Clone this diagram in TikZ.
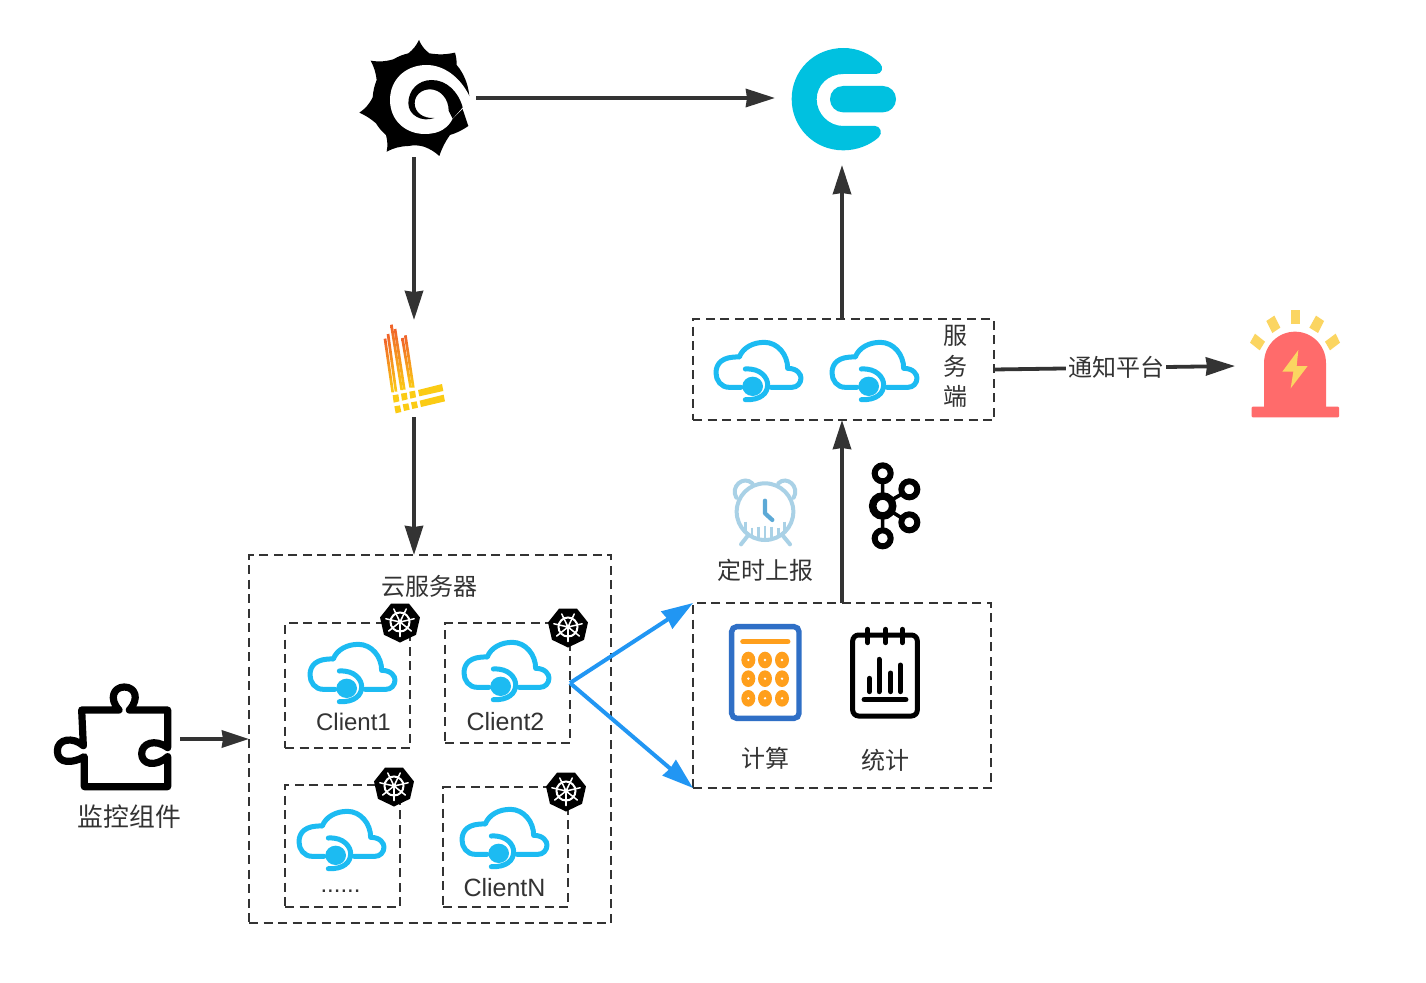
\documentclass[tikz,border=0pt]{standalone}
\usepackage{fontspec}
\setmainfont{Liberation Sans}
\newfontfamily\cjkf{Noto Sans CJK SC}
\usetikzlibrary{arrows.meta,calc}
\definecolor{ink}{HTML}{333333}
\definecolor{flow}{HTML}{2196F3}
\definecolor{cloudc}{HTML}{1CBBF2}
\definecolor{elkc}{HTML}{00C1E0}
\definecolor{bellr}{HTML}{FF6B6B}
\definecolor{belly}{HTML}{FBD561}
\definecolor{clockl}{HTML}{A9D1E6}
\definecolor{clockd}{HTML}{5CA9D6}
\definecolor{calcb}{HTML}{2F6FC6}
\definecolor{calco}{HTML}{FF9F1C}
\definecolor{lokio}{HTML}{F0622A}
\definecolor{lokiy}{HTML}{FBCB14}
\tikzset{
  dbox/.style={draw=ink,line width=2.3pt,dash pattern=on 9pt off 5.5pt,inner sep=0pt,outer sep=0pt},
  slot/.style={inner sep=0pt,outer sep=0pt},
  txt/.style={inner sep=0pt,outer sep=0pt,text=ink,font=\fontsize{24}{24}\selectfont},
  txtb/.style={inner sep=0pt,outer sep=0pt,text=ink,font=\fontsize{25}{25}\selectfont},
  ctxt/.style={inner sep=0pt,outer sep=0pt,text=ink,font=\fontsize{24}{24}\selectfont\cjkf},
  arr/.style={draw=ink,line width=3.8pt,-{Stealth[length=29pt,width=18pt,inset=1pt]}},
  arrs/.style={draw=ink,line width=3.8pt,-{Stealth[length=27pt,width=17pt,inset=1pt]}},
  barr/.style={draw=flow,line width=4pt,-{Stealth[length=31pt,width=20pt,inset=1pt]}},
  zoomed/.style={x=.33333pt,y=-.33333pt},
}
\newcommand{\cloudicon}[1]{\begin{scope}[shift={#1},zoomed]
  \draw[cloudc,line width=5pt,line cap=round,line join=round]
    (165,283) -- (130,283) .. controls (105,283) and (90,262) .. (90,240)
    .. controls (90,210) and (110,190) .. (160,192)
    .. controls (170,165) and (200,148) .. (235,148)
    .. controls (275,148) and (305,185) .. (305,226)
    .. controls (335,226) and (345,245) .. (345,255)
    .. controls (345,272) and (332,283) .. (318,283) -- (255,283);
  \draw[cloudc,line width=5pt,line cap=round]
    (178,228) .. controls (225,225) and (245,255) .. (245,275)
    .. controls (245,300) and (225,322) .. (178,320);
  \fill[cloudc] (200,280) ellipse [x radius=31,y radius=29];
\end{scope}}
\newcommand{\kbadge}[1]{\begin{scope}[shift={#1}]
  \fill[black,line join=round] (90:20.5) -- (38.6:20.5) -- (-12.9:20.5) -- (-64.3:20.5) -- (-115.7:20.5) -- (-167.1:20.5) -- (141.4:20.5) -- cycle;
  \draw[white,line width=2pt] (0,0) circle (9.5);
  \foreach \a in {90,38.6,-12.9,-64.3,-115.7,-167.1,141.4}{
    \draw[white,line width=1.5pt,line cap=round] (\a:2.5) -- (\a:14.5);}
  \fill[white] (0,0) circle (2.6);
\end{scope}}
\begin{document}
\begin{tikzpicture}[x=1pt,y=-1pt]
\path[fill=white,use as bounding box] (0,0) rectangle (1426,982);

% containers
\node[dbox,minimum width=362pt,minimum height=368pt] (cloudbox) at (430,739) {};
\node[dbox,minimum width=125pt,minimum height=125pt] (c1) at (347.5,685.5) {};
\node[dbox,minimum width=125pt,minimum height=120pt] (c2) at (507.5,683) {};
\node[dbox,minimum width=115pt,minimum height=122pt] (c3) at (342.5,846) {};
\node[dbox,minimum width=125pt,minimum height=120pt] (c4) at (505.5,847) {};
\node[dbox,minimum width=298pt,minimum height=185pt] (compute) at (842,695.5) {};
\node[dbox,minimum width=301pt,minimum height=101pt] (service) at (843.5,369.5) {};

% icon slots
\node[slot,minimum width=124pt,minimum height=118pt] (grafana) at (414,98) {};
\node[slot,minimum width=134pt,minimum height=134pt] (elk) at (842,98) {};
\node[slot,minimum width=80pt,minimum height=97pt] (loki) at (414,368.5) {};
\node[slot,minimum width=126pt,minimum height=110pt] (puzzle) at (117,739) {};
\node[slot,minimum width=120pt,minimum height=110pt] (bell) at (1295,366) {};

% connectors
\draw[arr] (grafana.east) -- (elk.west);
\draw[arr] (grafana.south) -- (loki.north);
\draw[arr] (loki.south) -- (loki.south |- cloudbox.north);
\draw[arrs] (puzzle.east) -- (cloudbox.west);
\draw[barr] (c2.east) -- (compute.north west);
\draw[barr] (c2.east) -- (compute.south west);
\draw[arr] (compute.north) -- (compute.north |- service.south);
\draw[arr] (elk.south |- service.north) -- (elk.south);
\draw[arr] (service.east) -- node[pos=.508,fill=white,ctxt,inner xsep=2pt,inner ysep=3pt] (notify) {通知平台} (bell.west);

% grafana
\begin{scope}[shift={(340,20)},zoomed]
  \fill[black] (237,60) to[bend right=14] (268,100) to[bend right=10] (345,98)
    to[bend left=8] (350,135) .. controls (372,160) and (385,195) .. (388,228)
    -- (366,262) -- (385,318) to[bend left=8] (330,345) to[bend right=8] (298,408)
    to[bend right=10] (252,380) to[bend right=12] (205,378) to[bend right=12] (140,395)
    to[bend right=12] (138,345) to[bend left=8] (108,310) to[bend right=8] (58,278)
    to[bend right=14] (98,232) to[bend left=8] (110,180) to[bend right=10] (92,122)
    to[bend right=12] (160,118) to[bend left=8] (205,100) to[bend right=12] cycle;
  \fill[white] (388,228) .. controls (360,170) and (310,135) .. (260,135)
    .. controls (195,135) and (150,180) .. (150,240)
    .. controls (150,300) and (195,342) .. (255,342)
    .. controls (300,342) and (325,322) .. (338,296) -- (372,262) -- (400,245) -- cycle;
  \fill[black] (368,262) .. controls (355,215) and (320,180) .. (275,180)
    .. controls (235,180) and (205,210) .. (205,250)
    .. controls (205,285) and (245,308) .. (283,294)
    .. controls (250,296) and (224,278) .. (224,250)
    .. controls (224,225) and (245,208) .. (270,208)
    .. controls (300,208) and (326,235) .. (326,272)
    -- (338,296) -- cycle;
\end{scope}

% elk logo
\begin{scope}[shift={(770,30)},zoomed]
  \fill[elkc] (330,100) .. controls (300,70) and (262,54) .. (220,54)
    .. controls (132,54) and (65,122) .. (65,207)
    .. controls (65,292) and (132,361) .. (220,361)
    .. controls (262,361) and (300,345) .. (326,322)
    .. controls (340,308) and (330,288) .. (315,288) -- (220,288)
    .. controls (175,288) and (140,250) .. (140,208)
    .. controls (140,165) and (175,132) .. (220,132) -- (318,132)
    .. controls (336,132) and (342,112) .. (330,100) -- cycle;
  \fill[elkc,rounded corners=13pt] (180,168) rectangle (378,247);
\end{scope}

% loki
\begin{scope}[shift={(370,315)},zoomed]
  \foreach \xa/\ya/\xb/\yb in {41/72/68/232,50/58/78/230,60/30/95/225,71/43/103/224,93/70/122/218,102/62/130/218}{
    \shade[top color=lokio,bottom color=lokiy] (\xa,\ya) -- ({\xa+8},{\ya-2}) -- ({\xb+4},\yb) -- ({\xb-4},\yb) -- cycle;}
  \fill[lokiy] (68,241) -- (85,238) -- (88,259) -- (71,263) -- cycle
    (93,236) -- (110,233) -- (113,253) -- (96,257) -- cycle
    (118,230) -- (135,227) -- (138,247) -- (121,251) -- cycle
    (144,225) -- (216,207) -- (220,228) -- (148,244) -- cycle
    (73,274) -- (90,271) -- (94,291) -- (77,295) -- cycle
    (98,268) -- (115,265) -- (119,284) -- (102,288) -- cycle
    (123,262) -- (140,259) -- (144,278) -- (127,282) -- cycle
    (149,257) -- (221,239) -- (225,259) -- (153,276) -- cycle;
\end{scope}

% puzzle
\begin{scope}[shift={(40,675)},zoomed]
  \draw[black,line width=7.2pt,line join=round,line cap=round]
    (383,218) .. controls (345,190) and (305,205) .. (305,236)
    .. controls (305,268) and (345,278) .. (383,245) -- (383,335) -- (133,335) -- (133,245)
    .. controls (100,265) and (52,268) .. (52,228)
    .. controls (52,190) and (100,185) .. (130,212) -- (125,105) -- (237,105)
    .. controls (205,70) and (222,36) .. (253,36)
    .. controls (285,36) and (300,70) .. (268,105) -- (383,105) -- (383,218);
\end{scope}

% client clouds
\cloudicon{(280,595)}
\cloudicon{(434,593)}
\cloudicon{(269,762)}
\cloudicon{(432,760)}
\cloudicon{(686,293)}
\cloudicon{(802,293)}

% kubernetes badges
\kbadge{(400,622)}
\kbadge{(568,627)}
\kbadge{(394,786)}
\kbadge{(566,791)}

% alarm bell
\begin{scope}[shift={(1240,300)},zoomed]
  \fill[bellr] (72,325) -- (72,190) .. controls (72,135) and (115,95) .. (165,95)
    .. controls (215,95) and (258,135) .. (258,190) -- (258,325) -- cycle;
  \fill[bellr,rounded corners=1pt] (35,320) rectangle (297,352);
  \fill[belly] (152,30) rectangle (180,72);
  \fill[belly] (79,63) -- (103,47) -- (121,83) -- (97,99) -- cycle;
  \fill[belly] (45,101) -- (75,125) -- (59,151) -- (30,128) -- cycle;
  \fill[belly] (252,63) -- (228,47) -- (208,83) -- (234,99) -- cycle;
  \fill[belly] (287,101) -- (300,128) -- (270,151) -- (255,125) -- cycle;
  \fill[belly,line join=round] (175,150) -- (127,215) -- (160,215) -- (152,265) -- (203,198) -- (170,198) -- cycle;
\end{scope}

% clock and kafka
\begin{scope}[shift={(715,455)},zoomed]
  \draw[clockl,line width=4pt] (150,170) circle (85);
  \draw[clockl,line width=4pt,line cap=round] (64,128) .. controls (45,95) and (85,60) .. (112,85);
  \draw[clockl,line width=4pt,line cap=round] (236,128) .. controls (255,95) and (215,60) .. (190,85);
  \draw[clockl,line width=4pt,line cap=round] (100,240) -- (78,268) (202,240) -- (225,268);
  \foreach \tx/\ty/\te in {92/200/232,111/218/245,131/215/253,150/212/255,170/215/253,190/218/245,208/200/232}{
    \draw[clockl,line width=2.4pt] (\tx,\ty) -- (\tx,\te);}
  \draw[clockd,line width=4.2pt,line cap=round,line join=round] (150,137) -- (150,175) -- (172,195);
  \draw[black,line width=6pt] (503,55) circle (24);
  \draw[black,line width=6pt] (503,250) circle (24);
  \draw[black,line width=6pt] (583,103) circle (24);
  \draw[black,line width=6pt] (583,202) circle (24);
  \draw[black,line width=7.5pt] (503,153) circle (30);
  \draw[black,line width=3.6pt] (503,79) -- (503,120) (503,186) -- (503,226) (530,135) -- (562,116) (530,170) -- (562,190);
\end{scope}

% calculator and stats
\begin{scope}[shift={(715,615)},zoomed]
  \draw[calcb,line width=5.4pt,rounded corners=5pt] (50,35) rectangle (252,310);
  \draw[calco,line width=5.6pt,line cap=round] (84,80) -- (218,80);
  \foreach \cx in {100,150,201}{\foreach \cy in {135,191,250}{
    \fill[calco] (\cx,\cy) ellipse [x radius=21,y radius=25];
    \fill[white] (\cx,\cy) circle (4);}}
  \draw[black,line width=5pt,rounded corners=6pt] (413,60) rectangle (607,303);
  \draw[black,line width=5pt,line cap=round] (458,43) -- (458,83) (512,43) -- (512,83) (562,43) -- (562,83);
  \draw[black,line width=5pt,line cap=round] (463,190) -- (463,230) (492,133) -- (492,230) (527,174) -- (527,230) (556,150) -- (556,230);
  \draw[black,line width=5.6pt,line cap=round] (448,254) -- (572,254);
\end{scope}

% labels
\node[ctxt,font=\fontsize{25.8}{26}\selectfont\cjkf] (lpuzzle) at (129.5,817) {监控组件};
\node[ctxt] (lcloud) at (429,586) {云服务器};
\node[txt] (l1) at (353.5,722) {Client1};
\node[txtb] (l2) at (505.5,722) {Client2};
\node[txt] (l3) at (340.5,891) {......};
\node[txtb] (l4) at (504.5,888) {ClientN};
\node[ctxt] (ltimer) at (765.5,570) {定时上报};
\node[ctxt] (lcalc) at (765.5,758) {计算};
\node[ctxt] (lstat) at (885.5,760) {统计};
\node[ctxt] (lsa) at (955.5,336) {服};
\node[ctxt] (lsb) at (955.5,366) {务};
\node[ctxt] (lsc) at (955.5,396) {端};
\end{tikzpicture}
\end{document}
